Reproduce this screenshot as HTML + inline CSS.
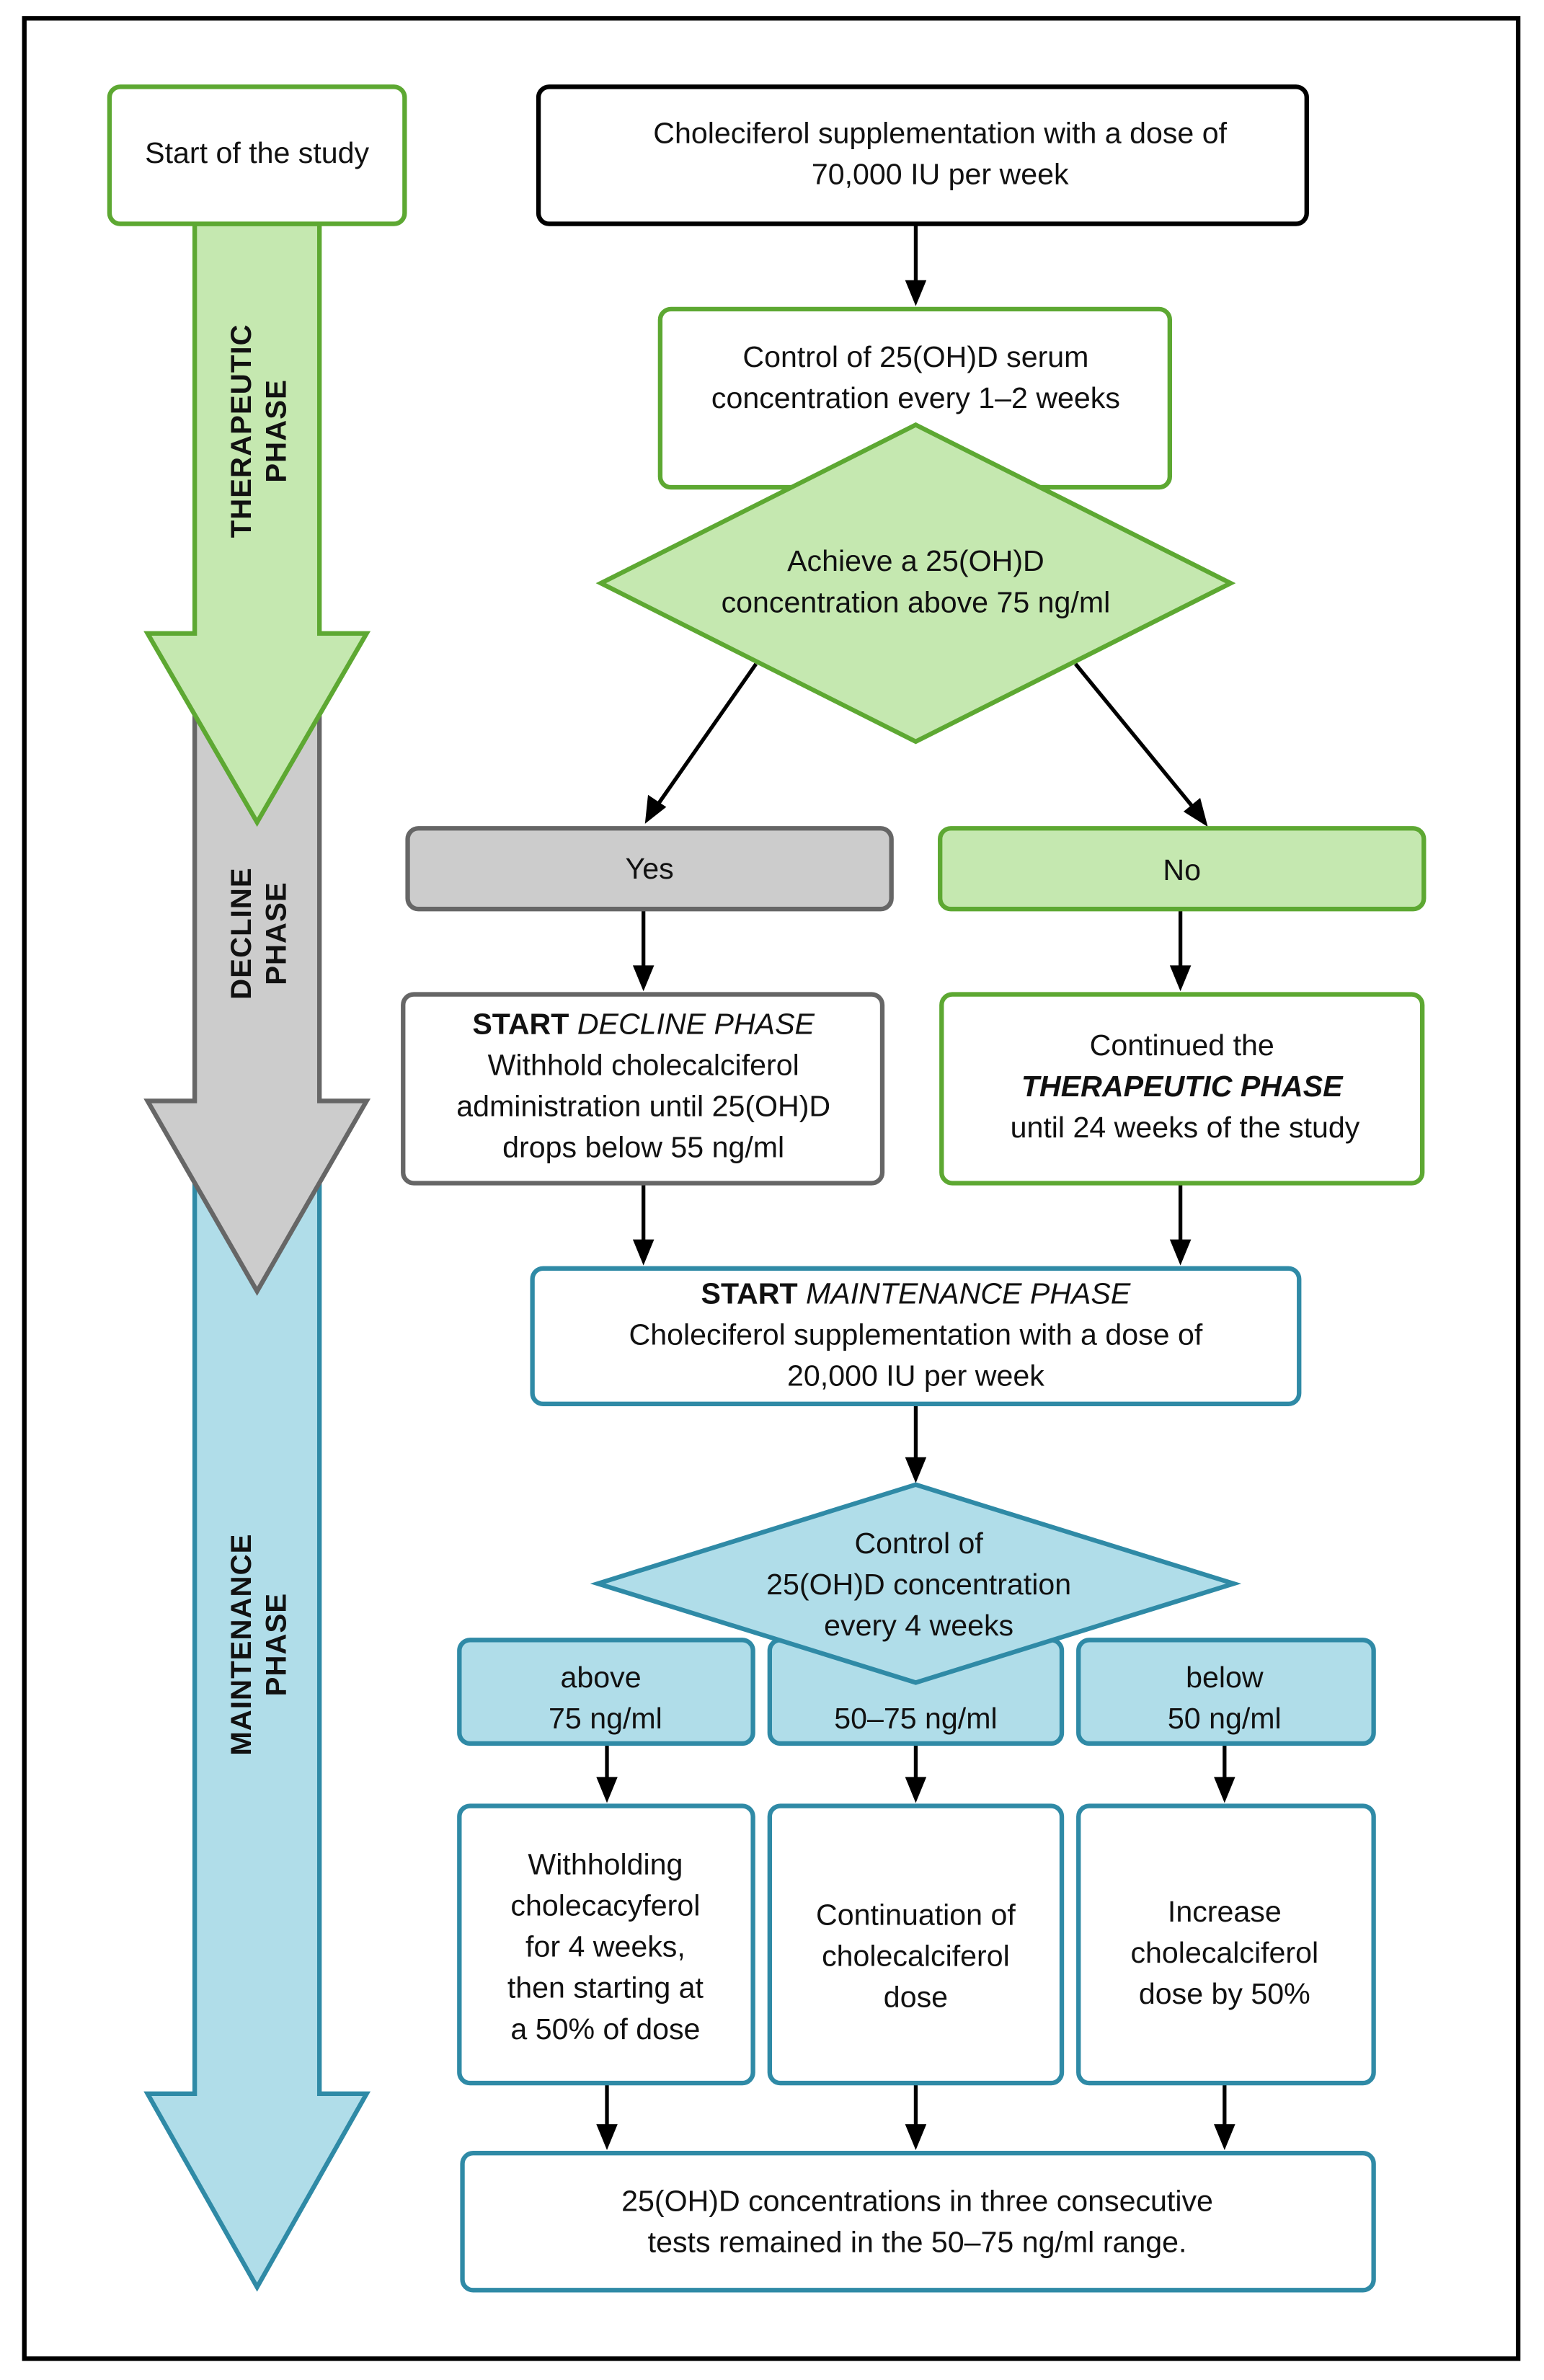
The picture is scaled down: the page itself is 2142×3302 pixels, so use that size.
<!DOCTYPE html>
<html><head><meta charset="utf-8"><style>
html,body{margin:0;padding:0;background:#fff;}
svg{display:block;}
text{font-family:"Liberation Sans",Arial,sans-serif;font-size:19.5px;fill:#111;text-anchor:middle;}
.b{font-weight:bold;}
.v{font-weight:bold;font-size:19px;letter-spacing:0.5px;}
</style></head><body>
<svg width="2142" height="3302" viewBox="0 0 1015 1563" preserveAspectRatio="none" xmlns="http://www.w3.org/2000/svg">
<rect x="0" y="0" width="1015" height="1563" fill="#fff"/>
<rect x="16" y="12" width="982" height="1537" fill="none" stroke="#000" stroke-width="3"/>

<!-- phase arrows -->
<path d="M128,760 L210,760 L210,1375 L241,1375 L169,1502 L97,1375 L128,1375 Z" fill="#b0dde9" stroke="#2f8aa6" stroke-width="3"/>
<path d="M128,450 L210,450 L210,723 L241,723 L169,848 L97,723 L128,723 Z" fill="#cccccc" stroke="#666" stroke-width="3"/>
<path d="M128,147 L210,147 L210,416 L241,416 L169,540 L97,416 L128,416 Z" fill="#c5e8b0" stroke="#5da832" stroke-width="3"/>
<text class="v" transform="translate(169,283) rotate(-90)"><tspan x="0" y="-4">THERAPEUTIC</tspan><tspan x="0" y="19">PHASE</tspan></text>
<text class="v" transform="translate(169,613) rotate(-90)"><tspan x="0" y="-4">DECLINE</tspan><tspan x="0" y="19">PHASE</tspan></text>
<text class="v" transform="translate(169,1080) rotate(-90)"><tspan x="0" y="-4">MAINTENANCE</tspan><tspan x="0" y="19">PHASE</tspan></text>

<rect x="72" y="57" width="194" height="90" rx="7" fill="#fff" stroke="#5da832" stroke-width="3"/>
<text x="169" y="107">Start of the study</text>

<g stroke="#000" stroke-width="2.5">
<line x1="602" y1="147" x2="602" y2="186"/>
<line x1="423" y1="597" x2="423" y2="636"/>
<line x1="776" y1="597" x2="776" y2="636"/>
<line x1="423" y1="777" x2="423" y2="816"/>
<line x1="776" y1="777" x2="776" y2="816"/>
<line x1="602" y1="922" x2="602" y2="958"/>
<line x1="399" y1="1145" x2="399" y2="1169"/>
<line x1="602" y1="1145" x2="602" y2="1169"/>
<line x1="805" y1="1145" x2="805" y2="1169"/>
<line x1="399" y1="1368" x2="399" y2="1397"/>
<line x1="602" y1="1368" x2="602" y2="1397"/>
<line x1="805" y1="1368" x2="805" y2="1397"/>
<line x1="497" y1="436" x2="432" y2="529"/>
<line x1="707" y1="436" x2="785" y2="531"/>
</g>
<g fill="#000">
<path d="M595,184 L609,184 L602,201 Z"/>
<path d="M416,634 L430,634 L423,651 Z"/>
<path d="M769,634 L783,634 L776,651 Z"/>
<path d="M416,814 L430,814 L423,831 Z"/>
<path d="M769,814 L783,814 L776,831 Z"/>
<path d="M595,957 L609,957 L602,974 Z"/>
<path d="M392,1167 L406,1167 L399,1184 Z"/>
<path d="M595,1167 L609,1167 L602,1184 Z"/>
<path d="M798,1167 L812,1167 L805,1184 Z"/>
<path d="M392,1395 L406,1395 L399,1412 Z"/>
<path d="M595,1395 L609,1395 L602,1412 Z"/>
<path d="M798,1395 L812,1395 L805,1412 Z"/>
<path d="M424,541 L426,522 L438,530 Z"/>
<path d="M794,543 L778,533 L789,524 Z"/>
</g>

<rect x="354" y="57" width="505" height="90" rx="7" fill="#fff" stroke="#000" stroke-width="3"/>
<text x="618" y="94">Choleciferol supplementation with a dose of</text>
<text x="618" y="121">70,000 IU per week</text>

<rect x="434" y="203" width="335" height="117" rx="7" fill="#fff" stroke="#5da832" stroke-width="3"/>
<text x="602" y="241">Control of 25(OH)D serum</text>
<text x="602" y="268">concentration every 1–2 weeks</text>
<path d="M602,279 L809,383 L602,487 L395,383 Z" fill="#c5e8b0" stroke="#5da832" stroke-width="3"/>
<text x="602" y="375">Achieve a 25(OH)D</text>
<text x="602" y="402">concentration above 75 ng/ml</text>

<rect x="268" y="544" width="318" height="53" rx="7" fill="#cccccc" stroke="#666" stroke-width="3"/>
<text x="427" y="577">Yes</text>
<rect x="618" y="544" width="318" height="53" rx="7" fill="#c5e8b0" stroke="#5da832" stroke-width="3"/>
<text x="777" y="578">No</text>

<rect x="265" y="653" width="315" height="124" rx="7" fill="#fff" stroke="#666" stroke-width="3"/>
<text x="423" y="679"><tspan class="b">START</tspan> <tspan font-style="italic">DECLINE PHASE</tspan></text>
<text x="423" y="706">Withhold cholecalciferol</text>
<text x="423" y="733">administration until 25(OH)D</text>
<text x="423" y="760">drops below 55 ng/ml</text>
<rect x="619" y="653" width="316" height="124" rx="7" fill="#fff" stroke="#5da832" stroke-width="3"/>
<text x="777" y="693">Continued the</text>
<text x="777" y="720" class="b" font-style="italic">THERAPEUTIC PHASE</text>
<text x="779" y="747">until 24 weeks of the study</text>

<rect x="350" y="833" width="504" height="89" rx="7" fill="#fff" stroke="#2f8aa6" stroke-width="3"/>
<text x="602" y="856"><tspan class="b">START</tspan> <tspan font-style="italic">MAINTENANCE PHASE</tspan></text>
<text x="602" y="883">Choleciferol supplementation with a dose of</text>
<text x="602" y="910">20,000 IU per week</text>

<rect x="302" y="1077" width="193" height="68" rx="7" fill="#b0dde9" stroke="#2f8aa6" stroke-width="3"/>
<rect x="506" y="1077" width="192" height="68" rx="7" fill="#b0dde9" stroke="#2f8aa6" stroke-width="3"/>
<rect x="709" y="1077" width="194" height="68" rx="7" fill="#b0dde9" stroke="#2f8aa6" stroke-width="3"/>
<path d="M602,975 L811,1040 L602,1105 L393,1040 Z" fill="#b0dde9" stroke="#2f8aa6" stroke-width="3"/>
<text x="604" y="1020">Control of</text>
<text x="604" y="1047">25(OH)D concentration</text>
<text x="604" y="1074">every 4 weeks</text>
<text x="395" y="1108">above</text>
<text x="398" y="1135">75 ng/ml</text>
<text x="602" y="1135">50–75 ng/ml</text>
<text x="805" y="1108">below</text>
<text x="805" y="1135">50 ng/ml</text>

<rect x="302" y="1186" width="193" height="182" rx="7" fill="#fff" stroke="#2f8aa6" stroke-width="3"/>
<rect x="506" y="1186" width="192" height="182" rx="7" fill="#fff" stroke="#2f8aa6" stroke-width="3"/>
<rect x="709" y="1186" width="194" height="182" rx="7" fill="#fff" stroke="#2f8aa6" stroke-width="3"/>
<text x="398" y="1231">Withholding</text>
<text x="398" y="1258">cholecacyferol</text>
<text x="398" y="1285">for 4 weeks,</text>
<text x="398" y="1312">then starting at</text>
<text x="398" y="1339">a 50% of dose</text>
<text x="602" y="1264">Continuation of</text>
<text x="602" y="1291">cholecalciferol</text>
<text x="602" y="1318">dose</text>
<text x="805" y="1262">Increase</text>
<text x="805" y="1289">cholecalciferol</text>
<text x="805" y="1316">dose by 50%</text>

<rect x="304" y="1414" width="599" height="90" rx="7" fill="#fff" stroke="#2f8aa6" stroke-width="3"/>
<text x="603" y="1452">25(OH)D concentrations in three consecutive</text>
<text x="603" y="1479">tests remained in the 50–75 ng/ml range.</text>
</svg>
</body></html>
